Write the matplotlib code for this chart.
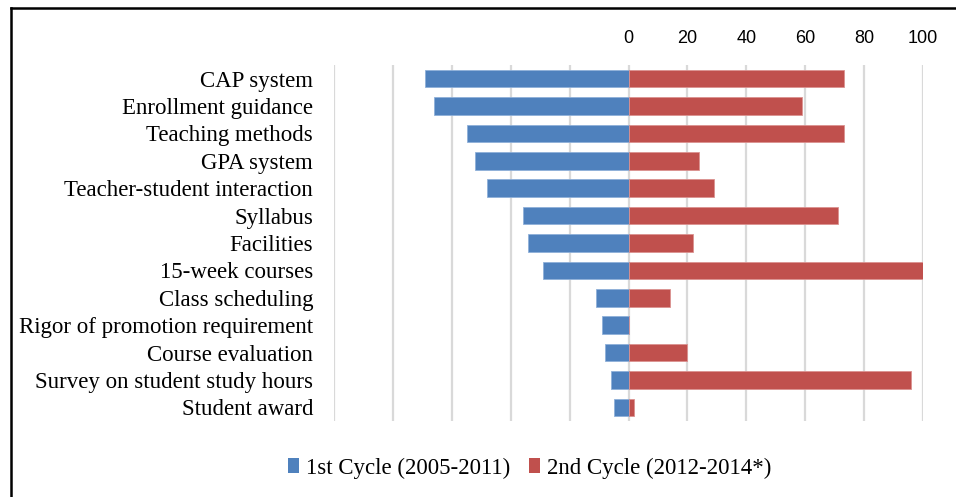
import matplotlib
matplotlib.use("Agg")
import matplotlib.pyplot as plt
from matplotlib.lines import Line2D
from matplotlib.patches import Patch
from matplotlib.ticker import FuncFormatter, MultipleLocator
import numpy as np

categories = [
    "CAP system",
    "Enrollment guidance",
    "Teaching methods",
    "GPA system",
    "Teacher-student interaction",
    "Syllabus",
    "Facilities",
    "15-week courses",
    "Class scheduling",
    "Rigor of promotion requirement",
    "Course evaluation",
    "Survey on student study hours",
    "Student award",
]
cycle1 = [69, 66, 55, 52, 48, 36, 34, 29, 11, 9, 8, 6, 5]
cycle2 = [73, 59, 73, 24, 29, 71, 22, 100, 14, 0, 20, 96, 2]
series_names = ["1st Cycle (2005-2011)", "2nd Cycle (2012-2014*)"]

BLUE = "#4F81BD"
RED = "#C0504D"
serif = ["Liberation Serif", "DejaVu Serif"]

fig = plt.figure(figsize=(9.56, 4.97), dpi=100)
ax = fig.add_axes([0.3494, 0.1529, 0.6161, 0.7163])

y = np.arange(len(categories))
ax.barh(y, -np.array(cycle1), height=0.64, color=BLUE,
        edgecolor="#8FB0D9", linewidth=0.6, zorder=3)
ax.barh(y, cycle2, height=0.64, color=RED,
        edgecolor="#DB9290", linewidth=0.6, zorder=3)

ax.set_xlim(-100, 100)
ax.set_ylim(len(categories) - 0.5, -0.5)
ax.xaxis.set_major_locator(MultipleLocator(20))
ax.xaxis.set_major_formatter(FuncFormatter(lambda v, p: "" if v < 0 else f"{v:.0f}"))
ax.xaxis.tick_top()
ax.tick_params(axis="x", length=0, pad=13, labelsize=13, labelcolor="#000000")
for lbl in ax.get_xticklabels():
    lbl.set_family(["Liberation Sans", "DejaVu Sans"])

ax.set_yticks(y)
ax.set_yticklabels(categories, family=serif, fontsize=16.5)
ax.tick_params(axis="y", length=0, pad=15)

ax.grid(axis="x", color="#D9D9D9", linewidth=1.6, zorder=0)
for s in ax.spines.values():
    s.set_visible(False)

handles = [Patch(facecolor=BLUE), Patch(facecolor=RED)]
fig.legend(handles, series_names, loc="center", bbox_to_anchor=(0.554, 0.058),
           ncol=2, frameon=False, prop={"family": serif, "size": 16.5},
           handlelength=0.5, handleheight=0.6, handletextpad=0.3, columnspacing=0.8)

# chart border (only top and left edges fall inside the image)
fig.add_artist(Line2D([0.011, 1.0], [0.984, 0.984], color="black", linewidth=1.8,
                      transform=fig.transFigure))
fig.add_artist(Line2D([0.011, 0.011], [0.0, 0.984], color="black", linewidth=1.8,
                      transform=fig.transFigure))

fig.savefig("out.png", dpi=100)
